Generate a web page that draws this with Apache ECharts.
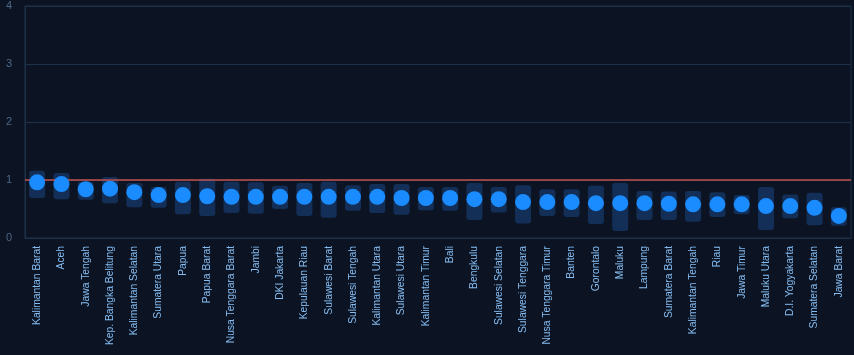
<!DOCTYPE html>
<html><head><meta charset="utf-8">
<style>html,body{margin:0;padding:0;background:#0c1424;}#c{width:854px;height:355px;}</style>
<script src="https://cdn.jsdelivr.net/npm/echarts@6/dist/echarts.min.js"></script>
</head><body><div id="c"></div>
<script>
const categories = ["Kalimantan Barat","Aceh","Jawa Tengah","Kep. Bangka Belitung","Kalimantan Selatan","Sumatera Utara","Papua","Papua Barat","Nusa Tenggara Barat","Jambi","DKI Jakarta","Kepulauan Riau","Sulawesi Barat","Sulawesi Tengah","Kalimantan Utara","Sulawesi Utara","Kalimantan Timur","Bali","Bengkulu","Sulawesi Selatan","Sulawesi Tenggara","Nusa Tenggara Timur","Banten","Gorontalo","Maluku","Lampung","Sumatera Barat","Kalimantan Tengah","Riau","Jawa Timur","Maluku Utara","D.I. Yogyakarta","Sumatera Selatan","Jawa Barat"];
const values = [0.96,0.93,0.84,0.85,0.79,0.74,0.74,0.72,0.71,0.71,0.71,0.71,0.71,0.71,0.71,0.69,0.69,0.69,0.67,0.67,0.62,0.62,0.62,0.60,0.60,0.60,0.59,0.58,0.58,0.58,0.55,0.55,0.52,0.38];
const lows = [0.69,0.67,0.66,0.60,0.53,0.52,0.41,0.38,0.43,0.42,0.50,0.38,0.35,0.47,0.43,0.40,0.48,0.47,0.31,0.44,0.25,0.38,0.36,0.24,0.12,0.31,0.31,0.28,0.36,0.41,0.14,0.34,0.22,0.21];
const highs = [1.16,1.12,0.97,1.05,0.95,0.88,0.97,1.02,0.97,0.96,0.90,0.95,0.97,0.91,0.93,0.93,0.88,0.88,0.95,0.88,0.91,0.84,0.84,0.90,0.95,0.81,0.80,0.81,0.79,0.74,0.88,0.75,0.78,0.53];
const yTicks = [0,1,2,3,4];
const reference = 1;

const chart = echarts.init(document.getElementById('c'));
chart.setOption({
  backgroundColor: '#0c1424',
  animation: false,
  grid: {left: 25, right: 3, top: 6, bottom: 117, show: true, borderColor: '#1d3149', borderWidth: 1},
  xAxis: {
    type: 'category', data: categories,
    axisLine: {lineStyle: {color: '#1d3149'}},
    axisTick: {show: false},
    axisLabel: {rotate: 90, color: '#86bdf2', fontSize: 10.3, fontFamily: 'Liberation Sans', interval: 0, margin: 8, width: 100.4, overflow: 'truncate'}
  },
  yAxis: {
    type: 'value', min: yTicks[0], max: yTicks[yTicks.length-1], interval: 1,
    axisLine: {show: true, lineStyle: {color: '#1d3149'}},
    axisTick: {show: false},
    axisLabel: {color: '#4d6786', fontSize: 11, fontFamily: 'Liberation Sans', margin: 13},
    splitLine: {lineStyle: {color: '#1d3149'}}
  },
  series: [
    {type: 'bar', stack: 'r', data: lows, itemStyle: {color: 'transparent'}, barWidth: '66%', silent: true},
    {type: 'bar', stack: 'r', data: highs.map((h,i)=>+(h-lows[i]).toFixed(3)), itemStyle: {color: 'rgba(40,120,220,0.28)', borderRadius: 3}, barWidth: '66%',
     markLine: {symbol: 'none', silent: true, label: {show: false}, lineStyle: {color: '#c0504d', width: 1.5, type: 'solid'}, data: [{yAxis: reference}]}},
    {type: 'scatter', data: values, symbolSize: 16, itemStyle: {color: '#1a8cff', opacity: 1}, z: 5}
  ]
});
</script></body></html>
